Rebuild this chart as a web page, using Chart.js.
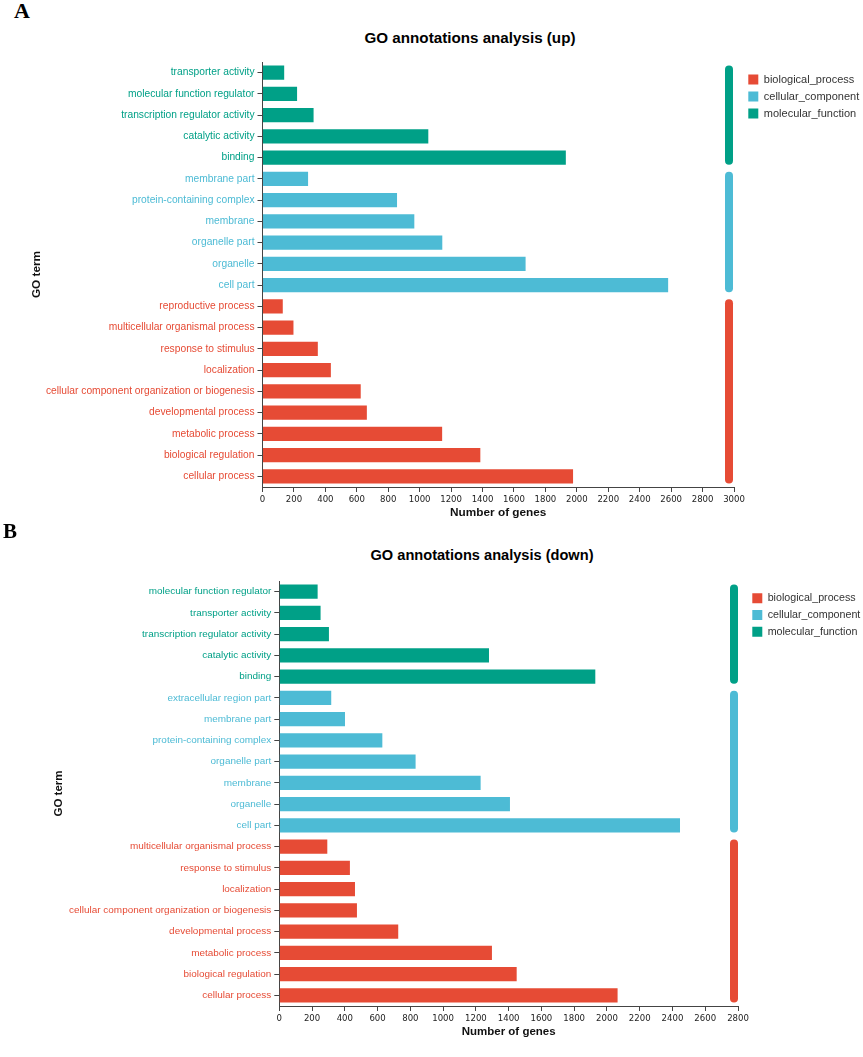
<!DOCTYPE html>
<html>
<head>
<meta charset="utf-8">
<script src="https://cdn.jsdelivr.net/npm/chart.js@4"></script>
<style>
  body { margin: 0; background: #fff; }
  #wrap { position: relative; width: 863px; height: 1057px; overflow: hidden; }
  canvas { position: absolute; left: 0; }
  .panel { position: absolute; font-family: "Liberation Serif", "Times New Roman", serif; font-weight: bold; line-height: 1; }
  .title { position: absolute; font-family: "Liberation Sans", Arial, sans-serif; font-weight: bold; white-space: nowrap; transform: translate(-50%, -50%); line-height: 1; }
</style>
</head>
<body>
<div id="wrap">
  <div class="panel" style="left:14px; top:0px; font-size:22px;">A</div>
  <div class="title" style="left:470px; top:38px; font-size:15.2px;">GO annotations analysis (up)</div>
  <canvas id="chartUp" width="900" height="525" style="top:0"></canvas>

  <div class="panel" style="left:3px; top:521px; font-size:21px;">B</div>
  <div class="title" style="left:482px; top:555px; font-size:14.6px;">GO annotations analysis (down)</div>
  <canvas id="chartDown" width="900" height="532" style="top:525px"></canvas>
</div>
<script>
Chart.defaults.font.family = '"Liberation Sans", Arial, sans-serif'
Chart.defaults.color = '#222'

const groupNames = ['biological_process', 'cellular_component', 'molecular_function']
const groupColors = ['#E64B35', '#4DBBD5', '#00A087']

// panel A (up)
const termsUp = [
    'transporter activity', 'molecular function regulator', 'transcription regulator activity',
    'catalytic activity', 'binding',
    'membrane part', 'protein-containing complex', 'membrane', 'organelle part', 'organelle', 'cell part',
    'reproductive process', 'multicellular organismal process', 'response to stimulus', 'localization',
    'cellular component organization or biogenesis', 'developmental process', 'metabolic process',
    'biological regulation', 'cellular process'
]
const groupUp = [
    'molecular_function', 'molecular_function', 'molecular_function', 'molecular_function', 'molecular_function',
    'cellular_component', 'cellular_component', 'cellular_component', 'cellular_component', 'cellular_component', 'cellular_component',
    'biological_process', 'biological_process', 'biological_process', 'biological_process', 'biological_process',
    'biological_process', 'biological_process', 'biological_process', 'biological_process'
]
const valuesUp = [138, 220, 325, 1055, 1930, 290, 856, 966, 1144, 1674, 2581, 129, 197, 352, 435, 625, 664, 1143, 1386, 1976]
const xMaxUp = 3000

// panel B (down)
const termsDown = [
    'molecular function regulator', 'transporter activity', 'transcription regulator activity',
    'catalytic activity', 'binding',
    'extracellular region part', 'membrane part', 'protein-containing complex', 'organelle part',
    'membrane', 'organelle', 'cell part',
    'multicellular organismal process', 'response to stimulus', 'localization',
    'cellular component organization or biogenesis', 'developmental process', 'metabolic process',
    'biological regulation', 'cellular process'
]
const groupDown = [
    'molecular_function', 'molecular_function', 'molecular_function', 'molecular_function', 'molecular_function',
    'cellular_component', 'cellular_component', 'cellular_component', 'cellular_component',
    'cellular_component', 'cellular_component', 'cellular_component',
    'biological_process', 'biological_process', 'biological_process', 'biological_process',
    'biological_process', 'biological_process', 'biological_process', 'biological_process'
]
const valuesDown = [234, 252, 303, 1280, 1929, 317, 401, 629, 832, 1229, 1408, 2446, 293, 431, 462, 474, 726, 1298, 1449, 2065]
const xMaxDown = 2800

const barPct = 0.66

// rounded vertical bars on the right marking each GO category
const groupBars = {
    id: 'groupBars',
    afterDatasetsDraw(chart, args, opts) {
        const y = chart.scales.y
        const ctx = chart.ctx
        const half = (y.getPixelForValue(1) - y.getPixelForValue(0)) * barPct / 2
        const xPos = chart.chartArea.right - opts.inset
        groupNames.forEach((g, gi) => {
            const idx = opts.groups.map((v, i) => v === g ? i : -1).filter(i => i >= 0)
            if (!idx.length) return
            const top = y.getPixelForValue(idx[0]) - half
            const bottom = y.getPixelForValue(idx[idx.length - 1]) + half
            ctx.save()
            ctx.strokeStyle = groupColors[gi]
            ctx.lineWidth = 8
            ctx.lineCap = 'round'
            ctx.beginPath()
            ctx.moveTo(xPos, top + 4)
            ctx.lineTo(xPos, bottom - 4)
            ctx.stroke()
            ctx.restore()
        })
    }
}

function setChart(id, o) {
    const datasets = groupNames.map((g, gi) => ({
        label: g,
        data: o.values.map((v, i) => o.groups[i] === g ? v : null),
        backgroundColor: groupColors[gi],
        xAxisID: 'x',
        yAxisID: 'y',
        grouped: false,
        barPercentage: barPct,
        categoryPercentage: 1
    }))

    new Chart(document.getElementById(id), {
        type: 'bar',
        data: { labels: o.terms, datasets: datasets },
        options: {
            indexAxis: 'y',
            responsive: false,
            animation: false,
            layout: { padding: o.padding },
            plugins: {
                tooltip: { enabled: false },
                groupBars: { groups: o.groups, inset: o.inset },
                legend: {
                    position: 'right',
                    align: 'start',
                    maxWidth: 118,
                    title: { display: true, text: ' ', font: { size: 5 }, padding: 0 },
                    labels: {
                        boxWidth: 10,
                        boxHeight: 10,
                        padding: 6,
                        color: '#333',
                        font: { size: o.legendSize }
                    }
                }
            },
            scales: {
                x: {
                    min: 0,
                    max: o.xMax,
                    ticks: {
                        stepSize: 200,
                        autoSkip: false,
                        maxRotation: 0,
                        padding: 2,
                        color: '#222',
                        callback: v => String(v),
                        font: { size: 9.5, family: '"Liberation Sans Narrow", "DejaVu Sans Condensed", "Liberation Sans", Arial, sans-serif' }
                    },
                    grid: { drawOnChartArea: false, tickLength: 5, tickColor: '#444' },
                    border: { color: '#444' },
                    title: {
                        display: true,
                        text: 'Number of genes',
                        color: '#111',
                        font: { size: o.axisTitleSize, weight: 'bold' },
                        padding: { top: 0, bottom: o.xTitlePad }
                    },
                    afterFit(s) { s.height = 38 }
                },
                y: {
                    ticks: {
                        padding: 3,
                        autoSkip: false,
                        font: { size: o.labelSize },
                        color: c => groupColors[groupNames.indexOf(o.groups[c.index])]
                    },
                    grid: { offset: false, drawOnChartArea: false, tickLength: 5, tickColor: '#444' },
                    border: { color: '#444' },
                    title: {
                        display: true,
                        text: 'GO term',
                        color: '#111',
                        font: { size: o.axisTitleSize, weight: 'bold' },
                        padding: { top: 4, bottom: 0 }
                    },
                    afterFit(s) { s.width = o.yWidth }
                },
                gap: {
                    type: 'linear',
                    position: 'right',
                    display: true,
                    grid: { display: false },
                    ticks: { display: false },
                    border: { display: false },
                    afterFit(s) { s.width = 8.3 }
                }
            }
        },
        plugins: [groupBars]
    })
}

setChart('chartUp', {
    terms: termsUp, groups: groupUp, values: valuesUp, xMax: xMaxUp,
    padding: { top: 62, left: 26, right: 39.7, bottom: 0 },
    yWidth: 236.5, xTitlePad: 5.2, inset: 5,
    labelSize: 10.25, legendSize: 11, axisTitleSize: 11.8
})

setChart('chartDown', {
    terms: termsDown, groups: groupDown, values: valuesDown, xMax: xMaxDown,
    padding: { top: 56, left: 48, right: 35.7, bottom: 13 },
    yWidth: 231.3, xTitlePad: 4.8, inset: 4,
    labelSize: 9.95, legendSize: 10.7, axisTitleSize: 11.5
})
</script>
</body>
</html>
